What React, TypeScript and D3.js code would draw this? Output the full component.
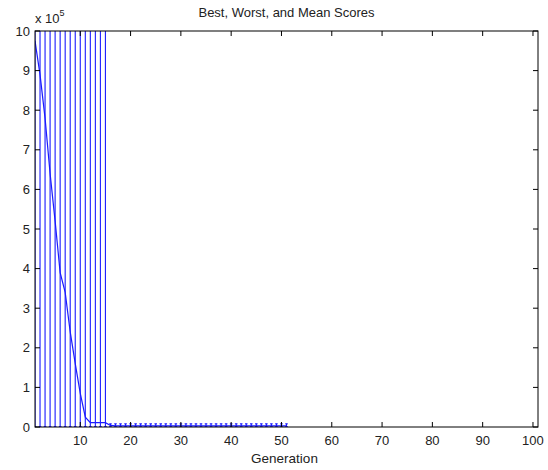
import React from "react";
import * as d3 from "d3";

const generations = d3.range(1, 52);
const meanScores = [
  9.75, 8.9, 7.8, 6.4, 5.2, 3.9, 3.4, 2.4, 1.6, 0.85, 0.25, 0.11, 0.11, 0.11, 0.11,
  0.04, 0.03, 0.03, 0.03, 0.03, 0.03, 0.03, 0.03, 0.03, 0.03, 0.03, 0.03, 0.03, 0.03, 0.03,
  0.03, 0.03, 0.03, 0.03, 0.03, 0.03, 0.03, 0.03, 0.03, 0.03, 0.03, 0.03, 0.03, 0.03, 0.03,
  0.03, 0.03, 0.03, 0.03, 0.03, 0.03,
];
const bestScores = [
  0.01, 0.01, 0.01, 0.01, 0.01, 0.01, 0.01, 0.01, 0.01, 0.01, 0.01, 0.01, 0.01, 0.01, 0.01,
  0.01, 0.01, 0.01, 0.01, 0.01, 0.01, 0.01, 0.01, 0.01, 0.01, 0.01, 0.01, 0.01, 0.01, 0.01,
  0.01, 0.01, 0.01, 0.01, 0.01, 0.01, 0.01, 0.01, 0.01, 0.01, 0.01, 0.01, 0.01, 0.01, 0.01,
  0.01, 0.01, 0.01, 0.01, 0.01, 0.01,
];
const worstScores = [
  20, 20, 20, 20, 20, 20, 20, 20, 20, 20, 20, 20, 20, 20, 20,
  0.08, 0.08, 0.08, 0.08, 0.08, 0.08, 0.08, 0.08, 0.08, 0.08, 0.08, 0.08, 0.08, 0.08, 0.08,
  0.08, 0.08, 0.08, 0.08, 0.08, 0.08, 0.08, 0.08, 0.08, 0.08, 0.08, 0.08, 0.08, 0.08, 0.08,
  0.08, 0.08, 0.08, 0.08, 0.08, 0.08,
];
const xTicks = [10, 20, 30, 40, 50, 60, 70, 80, 90, 100];
const yTicks = [0, 1, 2, 3, 4, 5, 6, 7, 8, 9, 10];
const title = "Best, Worst, and Mean Scores";
const xLabel = "Generation";

export default function App() {
  const W = 548, H = 470;
  const L = 35, R = 538, T = 31, B = 427;
  const x = d3.scaleLinear().domain([1, 101]).range([L, R]);
  const y = d3.scaleLinear().domain([0, 10]).range([B, T]);
  const line = d3
    .line<number>()
    .x((_, i) => x(generations[i]))
    .y((d) => y(d));
  const font = "Arial, 'Liberation Sans', sans-serif";
  const blue = "#1a1aff";
  const txt = "#222";
  const fs = 13;
  const cap = 1.3;
  return (
    <svg width={W} height={H} style={{ position: "absolute", left: 0, top: 0, background: "#fff" }}>
      <defs>
        <clipPath id="plot">
          <rect x={L} y={T} width={R - L} height={B - T} />
        </clipPath>
      </defs>
      <rect x={0} y={0} width={W} height={H} fill="#fff" />
      <g clipPath="url(#plot)">
        {generations.map((g, i) => (
          <g key={g} stroke={blue} strokeWidth={1.1} fill="none">
            <line x1={x(g)} x2={x(g)} y1={y(bestScores[i])} y2={y(worstScores[i])} />
            <line x1={x(g) - cap} x2={x(g) + cap} y1={y(bestScores[i])} y2={y(bestScores[i])} />
            <line x1={x(g) - cap} x2={x(g) + cap} y1={y(worstScores[i])} y2={y(worstScores[i])} />
          </g>
        ))}
        <path d={line(meanScores) || ""} fill="none" stroke={blue} strokeWidth={1.2} />
      </g>
      <rect x={L} y={T} width={R - L} height={B - T} fill="none" stroke="#000" strokeWidth={1} />
      {xTicks.map((t) => (
        <g key={"x" + t}>
          <line x1={x(t)} x2={x(t)} y1={B} y2={B - 5} stroke="#000" />
          <line x1={x(t)} x2={x(t)} y1={T} y2={T + 5} stroke="#000" />
          <text x={x(t)} y={B + 18} textAnchor="middle" fontFamily={font} fontSize={fs} fill={txt}>
            {t}
          </text>
        </g>
      ))}
      {yTicks.map((t) => (
        <g key={"y" + t}>
          <line x1={L} x2={L + 5} y1={y(t)} y2={y(t)} stroke="#000" />
          <line x1={R} x2={R - 5} y1={y(t)} y2={y(t)} stroke="#000" />
          <text x={L - 5} y={y(t) + 4.5} textAnchor="end" fontFamily={font} fontSize={fs} fill={txt}>
            {t}
          </text>
        </g>
      ))}
      <text x={35} y={23} fontFamily={font} fontSize={fs} fill={txt}>
        x 10
        <tspan dy={-7} fontSize={9}>5</tspan>
      </text>
      <text x={(L + R) / 2} y={17} textAnchor="middle" fontFamily={font} fontSize={fs} fill={txt}>
        {title}
      </text>
      <text x={(L + R) / 2 - 2} y={B + 36} textAnchor="middle" fontFamily={font} fontSize={fs + 0.5} fill={txt}>
        {xLabel}
      </text>
    </svg>
  );
}
